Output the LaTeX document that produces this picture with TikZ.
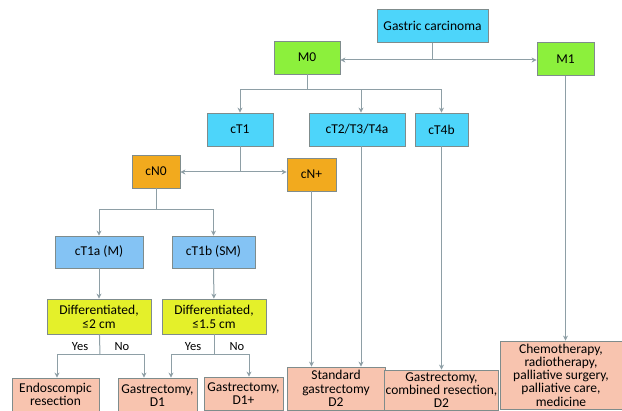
\documentclass[tikz,border=0pt]{standalone}
\usepackage{fontspec}
\setmainfont{Carlito}
\usetikzlibrary{arrows.meta}

\definecolor{skybox}{HTML}{4DD5FA}
\definecolor{paleblue}{HTML}{84C3F4}
\definecolor{mgreen}{HTML}{8CF03C}
\definecolor{norange}{HTML}{F2AA1E}
\definecolor{dyellow}{HTML}{E4F02A}
\definecolor{salmon}{HTML}{F8C4AF}
\definecolor{boxline}{HTML}{7F8C8C}
\definecolor{wire}{HTML}{8E9FA6}

\begin{document}
\begin{tikzpicture}[
       x=1pt, y=-1pt,
       font=\fontsize{13.5}{14}\selectfont,
       box/.style={
         draw=boxline,
         line width=0.8pt,
         align=center,
         inner sep=1pt
       },
       stage/.style={box, fill=skybox, minimum height=33pt},
       subt/.style={box, fill=paleblue, minimum height=32pt},
       meta/.style={box, fill=mgreen, minimum height=33pt},
       nodal/.style={box, fill=norange, minimum height=33pt},
       crit/.style={box, fill=dyellow, minimum width=104pt, minimum height=35pt},
       treat/.style={box, fill=salmon, font=\fontsize{13.5}{13.3}\selectfont},
       link/.style={wire, line width=1pt},
       arr/.style={link, -{Stealth[length=5pt,width=5pt]}},
       answer/.style={font=\fontsize{12.5}{13}\selectfont}
     ]

       \useasboundingbox (0,0) rectangle (622,411);
       \clip (0,0) rectangle (622,411);

       \node (gc) at (432.5,26) [stage, minimum width=111pt]{Gastric carcinoma};
       \node (m0) at (307,57.5) [meta, minimum width=66pt]{M0};
       \node (m1) at (565.5,59) [meta, minimum width=57pt]{M1};

       \node (ct1) at (240,129.5) [stage, minimum width=66pt]{cT1};
       \node (ct2) at (357,129.5) [stage, minimum width=96pt]{cT2/T3/T4a};
       \node (ct4b) at (441.5,129.5) [stage, minimum width=53pt]{cT4b};

       \node (cn0) at (156,171.5) [nodal, minimum width=48pt]{cN0};
       \node (cnp) at (311.5,174.5) [nodal, minimum width=49pt]{cN+};

       \node (ct1a) at (99,252) [subt, minimum width=88pt]{cT1a (M)};
       \node (ct1b) at (213.5,252) [subt, minimum width=83pt]{cT1b (SM)};

       \node (dif1) at (99,316.5) [crit]{Differentiated,\\≤2 cm};
       \node (dif2) at (214,316.5) [crit]{Differentiated,\\≤1.5 cm};

       \node (endo) at (55.5,394.5) [treat, minimum width=87pt, minimum height=33pt]{Endoscompic\\resection};
       \node (gd1) at (157.5,395.5) [treat, minimum width=79pt, minimum height=35pt]{Gastrectomy,\\D1};
       \node (gd1p) at (243.5,393.5) [treat, minimum width=79pt, minimum height=33pt]{Gastrectomy,\\D1+};
       \node (std) at (336,388.5) [treat, minimum width=98pt, minimum height=43pt]{Standard\\gastrectomy\\D2};
       \node (comb) at (441.5,390) [treat, minimum width=107pt, minimum height=40pt]{Gastrectomy,\\combined resection,\\D2};
       \node (chemo) at (561,375) [treat, minimum width=122pt, minimum height=68pt]{Chemotherapy,\\radiotherapy,\\palliative surgery,\\palliative care,\\medicine};

       \node (yes1) at (80,347) [answer]{Yes};
       \node (no1) at (122,347) [answer]{No};
       \node (yes2) at (193,347) [answer]{Yes};
       \node (no2) at (237,347) [answer]{No};

       \coordinate (j1) at (432.5,60);
       \coordinate (j2) at (307,90);
       \coordinate (j3) at (240,172);
       \coordinate (j4) at (156,210);
       \coordinate (j5) at (100,355);
       \coordinate (j6) at (214,355);

       \draw[link] (gc) -- (j1);
       \draw[arr] (j1) -- (j1 -| m0.east);
       \draw[arr] (j1) -- (j1 -| m1.west);

       \draw[link] (m0) -- (j2);
       \draw[arr] (j2) -| (ct1);
       \draw[arr] (j2) -| ([xshift=4pt]ct2.north);
       \draw[arr] (j2) -| (ct4b);

       \draw[link] (ct1) -- (j3);
       \draw[arr] (j3) -- (j3 -| cn0.east);
       \draw[arr] (j3) -- (j3 -| cnp.west);

       \draw[link] (cn0) -- (j4);
       \draw[arr] (j4) -| (ct1a);
       \draw[arr] (j4) -| (ct1b);

       \draw[arr] (ct1a) -- (dif1);
       \draw[arr] (ct1b) -- (dif2);

       \draw[link] (dif1) -- (j5);
       \draw[arr] (j5) -| ([xshift=1.5pt]endo.north);
       \draw[arr] (j5) -| ([xshift=-13.5pt]gd1.north);
       \draw[link] (dif2) -- (j6);
       \draw[arr] (j6) -| ([xshift=13.5pt]gd1.north);
       \draw[arr] (j6) -| ([xshift=5.5pt]gd1p.north);

       \draw[arr] (cnp) -- (cnp |- std.north);
       \draw[arr] ([xshift=4pt]ct2.south) -- ([xshift=4pt]ct2.south |- std.north);
       \draw[arr] (ct4b) -- (comb);
       \draw[arr] (m1) -- (m1 |- chemo.north);

\end{tikzpicture}
\end{document}
